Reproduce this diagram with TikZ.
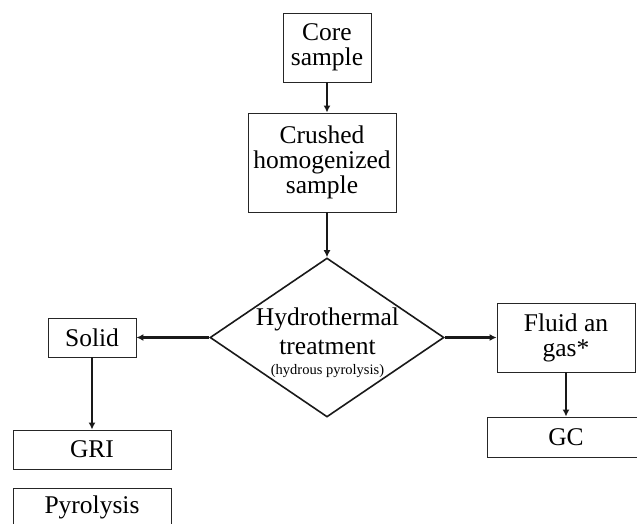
\documentclass[tikz,border=0pt]{standalone}
\usepackage{fontspec}
\setmainfont{Liberation Serif}
\usetikzlibrary{shapes.geometric,arrows.meta}
\begin{document}
\begin{tikzpicture}[x=1pt,y=-1pt,
  box/.style={draw=black!85,line width=0.9pt,inner sep=0pt,align=center,
    font=\fontsize{25.5}{25}\selectfont},
  arr/.style={draw=black!90,line width=2.6pt,-{Latex[length=7pt,width=7pt]}},
  dia/.style={draw=black!90,line width=1.6pt,shape=diamond,inner sep=0pt,
    minimum width=234pt,minimum height=159pt}]
\useasboundingbox (0,0) rectangle (637,523);
\node[box,minimum width=88pt,minimum height=69pt] (core) at (327,47.5) {Core\\sample};
\node[box,minimum width=148pt,minimum height=99pt] (crush) at (322,162.5) {Crushed\\homogenized\\sample};
\node[dia] (hyd) at (327,337.5) {};
\node[align=center,inner sep=0pt,font=\fontsize{25.5}{29}\selectfont] (hydtext) at (327.5,343)
  {Hydrothermal\\treatment\\[-9pt]{\fontsize{14.5}{16}\selectfont (hydrous pyrolysis)}};
\node[box,minimum width=88pt,minimum height=39pt] (solid) at (92,337.5) {Solid};
\node[box,minimum width=158pt,minimum height=39pt] (gri) at (92,449.5) {GRI};
\node[box,minimum width=158pt,minimum height=39pt] (pyr) at (92,507.5) {Pyrolysis};
\node[box,minimum width=138pt,minimum height=69pt] (fluid) at (566,337.5) {Fluid an\\gas*};
\node[box,minimum width=158pt,minimum height=40pt] (gc) at (566,437) {GC};
\draw[arr] (core.south) -- (core.south |- crush.north);
\draw[arr] (core.south |- crush.south) -- (hyd.north);
\draw[arr] (hyd.west) -- (solid.east);
\draw[arr] (hyd.east) -- (fluid.west);
\draw[arr] (solid.south) -- (solid.south |- gri.north);
\draw[arr] (fluid.south) -- (fluid.south |- gc.north);
\end{tikzpicture}
\end{document}
